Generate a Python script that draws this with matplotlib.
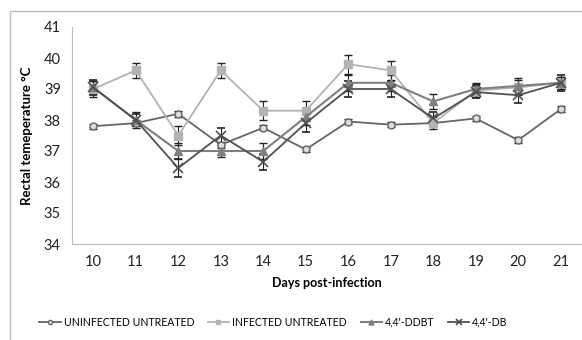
import numpy as np
import matplotlib.pyplot as plt
from matplotlib.patches import Rectangle

plt.rcParams['font.family'] = ['Lato', 'DejaVu Sans']

days = [10, 11, 12, 13, 14, 15, 16, 17, 18, 19, 20, 21]

uninfected = [37.8, 37.9, 38.2, 37.2, 37.75, 37.05, 37.95, 37.85, 37.9, 38.05, 37.35, 38.35]
uninfected_err = [0.08, 0.1, 0.1, 0.1, 0.08, 0.08, 0.08, 0.08, 0.1, 0.08, 0.1, 0.1]

infected = [39.0, 39.6, 37.5, 39.6, 38.3, 38.3, 39.8, 39.6, 37.9, 38.95, 39.05, 39.2]
infected_err = [0.25, 0.25, 0.3, 0.25, 0.3, 0.3, 0.3, 0.3, 0.2, 0.2, 0.25, 0.2]

ddbt = [39.05, 38.0, 37.0, 37.0, 37.0, 38.1, 39.2, 39.2, 38.6, 39.0, 39.1, 39.2]
ddbt_err = [0.2, 0.25, 0.25, 0.2, 0.25, 0.25, 0.25, 0.25, 0.25, 0.2, 0.25, 0.2]

db = [39.05, 38.0, 36.45, 37.5, 36.65, 37.9, 39.0, 39.0, 38.05, 38.9, 38.8, 39.2]
db_err = [0.25, 0.2, 0.3, 0.25, 0.25, 0.3, 0.25, 0.25, 0.2, 0.2, 0.25, 0.25]

labels = ['UNINFECTED UNTREATED', 'INFECTED UNTREATED', "4,4'-DDBT", "4,4'-DB"]

fig = plt.figure(figsize=(5.82, 3.40), dpi=100)
fig.patches.append(Rectangle((10 / 582, -0.1), 1.2, 1 - 11 / 340 + 0.1,
                             transform=fig.transFigure, fill=False,
                             edgecolor='#bdbdbd', lw=1.0))
ax = fig.add_axes([72 / 582, 1 - 244 / 340, 1 - 72 / 582, (244 - 27) / 340])

ax.errorbar(days, uninfected, yerr=uninfected_err, color='#666666', lw=1.3,
            marker='o', ms=5, mfc='#dddddd', mec='#666666', mew=1.0,
            ecolor='#222222', elinewidth=0.8, capsize=3, label=labels[0])
ax.errorbar(days, infected, yerr=infected_err, color='#b3b3b3', lw=1.3,
            marker='s', ms=6, mfc='#b3b3b3', mec='#b3b3b3',
            ecolor='#222222', elinewidth=0.8, capsize=3, label=labels[1])
ax.errorbar(days, ddbt, yerr=ddbt_err, color='#7f7f7f', lw=1.5,
            marker='^', ms=6, mfc='#7f7f7f', mec='#7f7f7f',
            ecolor='#222222', elinewidth=0.8, capsize=3, label=labels[2])
ax.errorbar(days, db, yerr=db_err, color='#505050', lw=1.3,
            marker='x', ms=7, mew=1.2,
            ecolor='#222222', elinewidth=0.8, capsize=3, label=labels[3])

ax.set_xlim(9.5, 21.5)
ax.set_ylim(34, 41)
ax.set_xticks(days)
ax.set_yticks(np.arange(34, 42, 1))
ax.tick_params(length=0, labelsize=10.5, colors='#222222', pad=8)
for s in ['top', 'right']:
    ax.spines[s].set_visible(False)
for s in ['left', 'bottom']:
    ax.spines[s].set_color('#bdbdbd')

ax.set_xlabel('Days post-infection', fontsize=9, fontweight='bold', labelpad=6)
ax.set_ylabel('Rectal temeperature °C', fontsize=9.5, fontweight='bold', labelpad=8)

handles, labs = ax.get_legend_handles_labels()
handles = [h[0] for h in handles]
fig.legend(handles, labs, loc='center', bbox_to_anchor=(0.47, 1 - 322 / 340),
           ncol=4, frameon=False, fontsize=7.6, handlelength=2.0,
           columnspacing=1.3, handletextpad=0.3, markerscale=0.6)

fig.savefig('out.png', dpi=100)
